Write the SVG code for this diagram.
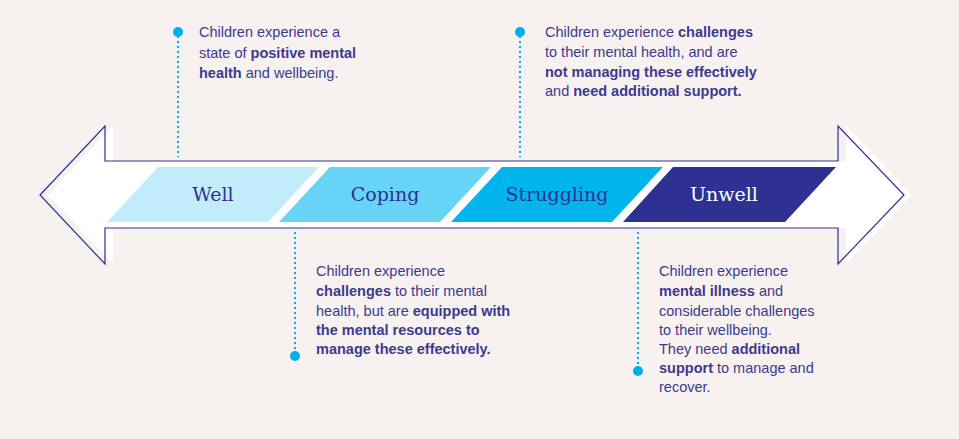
<svg xmlns="http://www.w3.org/2000/svg" width="959" height="439" viewBox="0 0 959 439">
<style>
.t{font-family:"Liberation Sans",Arial,sans-serif;font-size:14.5px;fill:#3b3a8f}
.b{font-weight:bold}
.lab{font-family:"DejaVu Serif","Liberation Serif",serif;font-size:19px;text-anchor:middle}
.dl{stroke:#00aeef;stroke-width:2;stroke-dasharray:2 3;fill:none}
.dot{fill:#00aeef}
</style>
<rect width="959" height="439" fill="#f7f2ef"/>
<g id="arrow">
<polygon points="48,195 113,126 113,161 846,161 846,126 912,195 846,264 846,228 113,228 113,264" fill="#fff"/>
<polygon points="40,195 105,126 105,161 838,161 838,126 904,195 838,264 838,228 105,228 105,264" fill="none" stroke="#2e3192" stroke-width="1.2"/>
</g>
<g id="well"><polygon points="107,222 158,167 319,167 268,222" fill="#c0ecfb"/><text class="lab" x="213" y="201" fill="#2e3192">Well</text></g>
<g id="coping"><polygon points="279,222 330,167 491,167 440,222" fill="#66d3f7"/><text class="lab" x="385" y="201" fill="#2e3192">Coping</text></g>
<g id="struggling"><polygon points="451,222 502,167 663,167 612,222" fill="#00b5ec"/><text class="lab" x="557" y="201" fill="#2e3192">Struggling</text></g>
<g id="unwell"><polygon points="623,222 673,167 836,167 785,222" fill="#2e3192"/><text class="lab" x="724" y="201" fill="#fff">Unwell</text></g>
<g id="connectors">
<line class="dl" x1="178" y1="36" x2="178" y2="157"/>
<line class="dl" x1="520" y1="36" x2="520" y2="157"/>
<line class="dl" x1="295" y1="232" x2="295" y2="352"/>
<line class="dl" x1="638" y1="232" x2="638" y2="367"/>
<circle class="dot" cx="178" cy="32" r="5"/>
<circle class="dot" cx="520" cy="32" r="5"/>
<circle class="dot" cx="295" cy="356" r="5"/>
<circle class="dot" cx="638" cy="371" r="5"/>
</g>
<g id="note1">
<text class="t" x="199" y="37">Children experience a</text>
<text class="t" x="199" y="58">state of <tspan class="b">positive mental</tspan></text>
<text class="t" x="199" y="78"><tspan class="b">health</tspan> and wellbeing.</text>
</g>
<g id="note2">
<text class="t" x="545" y="37">Children experience <tspan class="b">challenges</tspan></text>
<text class="t" x="545" y="57">to their mental health, and are</text>
<text class="t" x="545" y="77"><tspan class="b">not managing these effectively</tspan></text>
<text class="t" x="545" y="96">and <tspan class="b">need additional support.</tspan></text>
</g>
<g id="note3">
<text class="t" x="316" y="276">Children experience</text>
<text class="t" x="316" y="296"><tspan class="b">challenges</tspan> to their mental</text>
<text class="t" x="316" y="316">health, but are <tspan class="b">equipped with</tspan></text>
<text class="t" x="316" y="335"><tspan class="b">the mental resources to</tspan></text>
<text class="t" x="316" y="354"><tspan class="b">manage these effectively.</tspan></text>
</g>
<g id="note4">
<text class="t" x="659" y="276">Children experience</text>
<text class="t" x="659" y="296"><tspan class="b">mental illness</tspan> and</text>
<text class="t" x="659" y="316">considerable challenges</text>
<text class="t" x="659" y="335">to their wellbeing.</text>
<text class="t" x="659" y="354">They need <tspan class="b">additional</tspan></text>
<text class="t" x="659" y="373"><tspan class="b">support</tspan> to manage and</text>
<text class="t" x="659" y="392">recover.</text>
</g>
</svg>
